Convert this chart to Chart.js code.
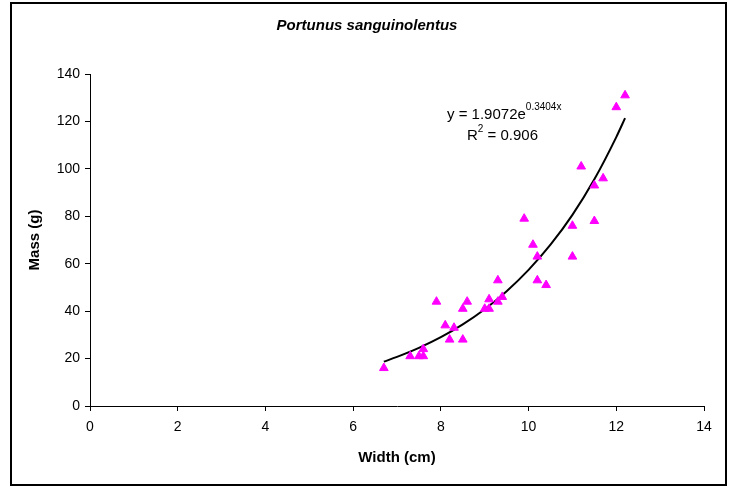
<!DOCTYPE html>
<html>
<head>
<meta charset="utf-8">
<script src="https://cdn.jsdelivr.net/npm/chart.js@4/dist/chart.umd.min.js"></script>
<style>
  html, body { margin: 0; padding: 0; background: #fff; }
  #wrap { width: 735px; height: 487px; }
</style>
</head>
<body>
<div id="wrap"><canvas id="crabChart" width="735" height="487"></canvas></div>
<script>
// Observed carapace width (cm) and mass (g)
const widthCm = [6.7, 7.3, 7.5, 7.6, 7.6, 7.9, 8.1, 8.3, 8.2, 8.5, 8.5, 8.6,
  9.1, 9.0, 9.1, 9.3, 9.4, 9.3, 10.2, 10.4, 9.9, 10.1, 10.2, 11.0, 11.0,
  11.5, 11.5, 11.7, 11.2, 12.0, 12.2];
const massG = [16, 21, 21, 21, 24, 44, 34, 33, 28, 28, 41, 44,
  45, 41, 41, 44, 46, 53, 53, 51, 79, 68, 63, 76, 63,
  78, 93, 96, 101, 126, 131];

// Exponential trendline
const trendX = [6.7, 7.0, 7.5, 8.0, 8.5, 9.0, 9.5, 10.0, 10.5, 11.0, 11.5, 12.0, 12.2];
const trendY = [18.7, 20.7, 24.5, 29.0, 34.4, 40.8, 48.4, 57.4, 68.0, 80.6, 95.6, 113.4, 121.4];

const xTicks = [0, 2, 4, 6, 8, 10, 12, 14];
const yTicks = [0, 20, 40, 60, 80, 100, 120, 140];

const chartTitle = 'Portunus sanguinolentus';
const eqMain = 'y = 1.9072e';
const eqExp = '0.3404x';
const r2Main = 'R';
const r2Sup = '2';
const r2Rest = ' = 0.906';

const FONT = 'Liberation Sans, Arial, Helvetica, sans-serif';

const points = widthCm.map((x, i) => ({ x: x, y: massG[i] }));
const trend = trendX.map((x, i) => ({ x: x, y: trendY[i] }));

// frame, title and trendline label
const extrasPlugin = {
  id: 'extras',
  afterDraw(chart) {
    const c = chart.ctx;
    c.save();
    c.strokeStyle = '#000';
    c.lineWidth = 2;
    c.strokeRect(11, 3, 715, 482);

    c.fillStyle = '#000';
    c.textBaseline = 'alphabetic';
    c.textAlign = 'center';
    c.font = 'italic bold 15px ' + FONT;
    c.fillText(chartTitle, 367, 30);

    c.textAlign = 'left';
    c.font = '15px ' + FONT;
    let x = 447;
    c.fillText(eqMain, x, 119);
    x += c.measureText(eqMain).width;
    c.font = '10px ' + FONT;
    c.fillText(eqExp, x, 110);

    c.font = '15px ' + FONT;
    x = 467;
    c.fillText(r2Main, x, 140);
    x += c.measureText(r2Main).width;
    c.font = '10px ' + FONT;
    c.fillText(r2Sup, x, 132);
    x += c.measureText(r2Sup).width;
    c.font = '15px ' + FONT;
    c.fillText(r2Rest, x, 140);
    c.restore();
  }
};

const ctx = document.getElementById('crabChart').getContext('2d');

const myChart = new Chart(ctx, {
  type: 'scatter',
  data: {
    datasets: [
      {
        label: 'Trend',
        type: 'line',
        data: trend,
        borderColor: '#000',
        borderWidth: 2,
        pointRadius: 0,
        fill: false,
        cubicInterpolationMode: 'monotone',
        order: 1
      },
      {
        label: 'Mass',
        data: points,
        pointStyle: 'triangle',
        pointRadius: 5,
        backgroundColor: '#ff00ff',
        borderColor: '#ff00ff',
        borderWidth: 1,
        order: 0
      }
    ]
  },
  options: {
    responsive: false,
    animation: false,
    layout: { padding: { left: 0, top: 74, right: 31, bottom: 0 } },
    plugins: {
      legend: { display: false },
      title: { display: false },
      tooltip: { enabled: false }
    },
    scales: {
      x: {
        type: 'linear',
        min: 0,
        max: 14,
        afterBuildTicks: (scale) => { scale.ticks = xTicks.map(v => ({ value: v })); },
        afterFit: (scale) => { scale.height = 81; },
        grid: { display: true, drawOnChartArea: false, drawTicks: true, tickLength: 5, color: '#000' },
        border: { display: true, color: '#000', width: 1 },
        ticks: { color: '#000', padding: 8, font: { family: FONT, size: 14 } },
        title: {
          display: true,
          text: 'Width (cm)',
          color: '#000',
          font: { family: FONT, size: 15, weight: 'bold' },
          padding: { top: 4, bottom: 20 }
        }
      },
      y: {
        type: 'linear',
        min: 0,
        max: 140,
        afterBuildTicks: (scale) => { scale.ticks = yTicks.map(v => ({ value: v })); },
        afterFit: (scale) => { scale.width = 90; },
        grid: { display: true, drawOnChartArea: false, drawTicks: true, tickLength: 5, color: '#000' },
        border: { display: true, color: '#000', width: 1 },
        ticks: { color: '#000', padding: 5, font: { family: FONT, size: 14 } },
        title: {
          display: true,
          text: 'Mass (g)',
          color: '#000',
          font: { family: FONT, size: 15, weight: 'bold' },
          padding: { top: 26, bottom: 0 }
        }
      }
    }
  },
  plugins: [extrasPlugin]
});
</script>
</body>
</html>
